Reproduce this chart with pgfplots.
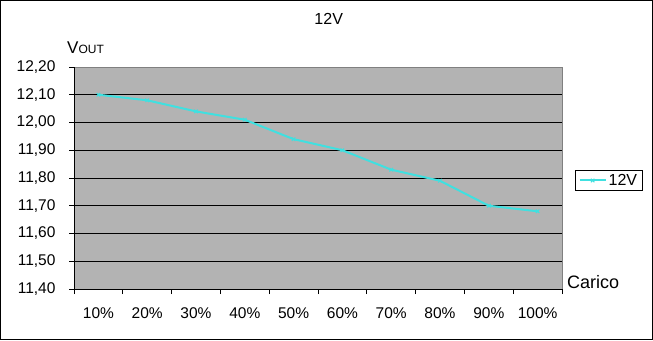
\documentclass[border=0pt]{standalone}
\usepackage{pgfplots}
\pgfplotsset{compat=1.18}
\usepackage{fontspec}
\setmainfont{Liberation Sans}
\definecolor{plotgray}{RGB}{179,179,179}
\definecolor{turq}{RGB}{64,224,224}
\begin{document}
\begin{tikzpicture}[x=1bp,y=1bp]
\useasboundingbox (0,0) rectangle (653,340);
\draw[black, line width=1bp] (0.5,0.5) rectangle (652,339.5);
\begin{axis}[
  at={(74bp,51bp)}, anchor=south west,
  width=488bp, height=222bp, scale only axis,
  xmin=0.5, xmax=10.5, ymin=11.4, ymax=12.2,
  axis x line*=bottom, axis y line*=left,
  axis line style={black, line width=1bp},
  axis background/.style={fill=plotgray, draw=gray, line width=1bp},
  tick align=outside,
  major tick length=5bp,
  tick style={black, line width=1bp},
  xtick={0.5,1.5,2.5,3.5,4.5,5.5,6.5,7.5,8.5,9.5,10.5},
  xticklabels={},
  extra x ticks={1,2,3,4,5,6,7,8,9,10},
  extra x tick labels={10\%,20\%,30\%,40\%,50\%,60\%,70\%,80\%,90\%,100\%},
  extra x tick style={major tick length=0pt, tick label style={anchor=base, yshift=-29bp}},
  ytick={11.5,11.6,11.7,11.8,11.9,12.0,12.1},
  extra y ticks={11.4,12.2},
  extra y tick style={grid=none},
  ymajorgrids,
  major grid style={black, line width=1bp},
  tick label style={font=\fontsize{15.5bp}{18bp}\selectfont},
  y tick label style={xshift=-10bp},
  /pgf/number format/fixed, /pgf/number format/fixed zerofill, /pgf/number format/precision=2,
  /pgf/number format/use comma, /pgf/number format/assume math mode=true,
  xlabel={Carico},
  xlabel style={at={(axis description cs:1.0102,0.0045)}, anchor=base west, inner sep=0pt, font=\fontsize{18bp}{21bp}\selectfont},
  ylabel={V{\fontsize{12bp}{14bp}\selectfont OUT}},
  ylabel style={rotate=-90, at={(axis description cs:-0.0143,1.0586)}, anchor=base west, inner sep=0pt, font=\fontsize{17bp}{20bp}\selectfont},
  title={12V},
  title style={at={(axis description cs:0.5219,1.1635)}, anchor=base, inner sep=0pt, font=\fontsize{16bp}{19bp}\selectfont},
  legend style={at={(axis description cs:1.096,0.489)}, anchor=center, draw=black, fill=white, line width=0.8bp,
    font=\fontsize{16bp}{19bp}\selectfont, inner xsep=3bp, inner ysep=2bp},
  legend image code/.code={\draw[mark repeat=2,mark phase=2,#1] plot coordinates {(0bp,0bp) (13bp,0bp) (26bp,0bp)};},
]
\addplot[turq, line width=2bp, mark=x, mark size=2.5bp, mark options={solid, line width=1bp}] coordinates {
  (1,12.10) (2,12.08) (3,12.04) (4,12.01) (5,11.94)
  (6,11.90) (7,11.83) (8,11.79) (9,11.70) (10,11.68)
};
\addlegendentry{12V}
\end{axis}
\end{tikzpicture}
\end{document}
